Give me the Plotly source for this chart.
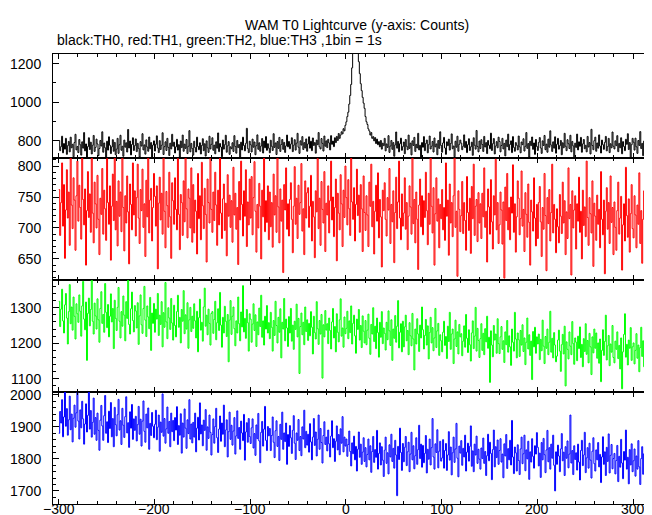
import plotly.graph_objects as go

T_START = -300  # first bin (s); 1 bin = 1 s

# TH0 (black)
th0 = [
801, 748, 769, 823, 737, 785, 756, 812, 729, 774, 796, 742, 818, 763, 781, 716, 790, 833, 752, 770,
738, 806, 779, 725, 794, 761, 842, 747, 783, 712, 769, 815, 754, 792, 731, 776, 827, 744, 765, 808,
783, 722, 759, 801, 772, 846, 740, 788, 763, 709, 797, 751, 820, 776, 733, 768, 805, 745, 791, 727,
756, 812, 734, 779, 828, 750, 771, 719, 803, 766, 789, 741, 858, 762, 798, 726, 780, 815, 749, 774,
809, 743, 786, 760, 715, 795, 772, 836, 752, 778, 730, 804, 767, 745, 819, 758, 790, 711, 777, 799,
746, 781, 825, 762, 738, 800, 754, 776, 841, 728, 769, 794, 749, 812, 765, 723, 787, 757, 833, 771,
792, 736, 768, 807, 751, 779, 713, 798, 764, 829, 745, 782, 760, 806, 733, 771, 852, 742, 786, 759,
725, 797, 764, 741, 818, 770, 753, 789, 731, 775, 810, 748, 784, 720, 799, 763, 739, 823, 757, 781,
815, 750, 777, 732, 794, 761, 840, 743, 785, 767, 716, 803, 756, 779, 828, 740, 773, 795, 729, 768,
758, 789, 744, 826, 770, 735, 801, 764, 780, 712, 792, 752, 818, 775, 747, 786, 864, 759, 738, 797,
779, 741, 808, 766, 793, 727, 774, 830, 755, 789, 745, 772, 811, 736, 798, 763, 821, 750, 784, 761,
737, 802, 771, 749, 836, 765, 788, 728, 795, 760, 817, 744, 780, 806, 755, 791, 739, 773, 829, 768,
796, 758, 782, 815, 743, 776, 805, 751, 787, 838, 766, 734, 799, 777, 821, 754, 790, 762, 809, 745,
783, 820, 761, 797, 748, 814, 775, 790, 735, 803, 779, 842, 768, 757, 811, 786, 746, 824, 771, 799,
764, 807, 788, 752, 826, 781, 798, 769, 815, 790, 822, 801, 837, 812, 829, 846, 835, 862, 851, 880,
898, 925, 948, 990, 1035, 1092, 1178, 1265, 1298, 1312, 1290, 1305, 1270, 1210, 1148, 1096, 1060, 1025, 995, 968,
925, 898, 884, 861, 850, 829, 842, 812, 821, 799, 816, 785, 808, 779, 795, 768, 801, 756, 787, 774,
812, 747, 783, 765, 826, 739, 772, 801, 755, 790, 719, 778, 845, 761, 796, 742, 784, 813, 750, 769,
793, 732, 806, 771, 753, 829, 760, 787, 726, 799, 775, 817, 744, 781, 762, 838, 752, 776, 708, 790,
766, 821, 748, 785, 803, 737, 779, 824, 757, 771, 796, 741, 814, 768, 783, 727, 801, 760, 846, 775,
740, 788, 817, 762, 729, 794, 774, 808, 751, 785, 835, 758, 772, 716, 797, 766, 823, 745, 781, 803,
787, 753, 771, 830, 764, 796, 738, 779, 810, 749, 768, 792, 724, 815, 776, 756, 853, 770, 742, 798,
759, 805, 780, 744, 822, 767, 790, 733, 801, 776, 758, 839, 749, 784, 811, 731, 772, 795, 763, 818,
796, 742, 775, 812, 757, 786, 721, 803, 769, 834, 751, 780, 799, 738, 821, 765, 745, 790, 776, 752,
824, 768, 737, 793, 779, 810, 746, 771, 842, 760, 785, 715, 797, 774, 819, 755, 788, 729, 806, 770,
749, 791, 816, 762, 734, 799, 775, 827, 753, 782, 740, 808, 766, 851, 777, 744, 794, 761, 820, 735,
781, 812, 756, 774, 801, 727, 789, 763, 838, 771, 748, 805, 784, 759, 828, 742, 796, 773, 710, 787,
765, 834, 752, 794, 771, 817, 740, 783, 806, 758, 776, 742, 822, 767, 790, 731, 859, 775, 753, 800,
818, 745, 788, 761, 830, 772, 736, 803, 779, 755, 791, 822, 747, 769, 812, 738, 784, 763, 845, 771,
757, 799, 774, 826, 743, 786, 763, 815, 732, 795, 770, 748, 807, 781, 836, 754, 790, 702, 779, 812,
792, 751, 813, 768, 734, 801, 775, 847, 759, 786, 722, 798, 770, 816, 745, 789, 765, 824, 753, 780,
768]

# TH1 (red)
th1 = [
762, 688, 741, 805, 703, 770, 651, 729, 794, 716, 758, 672, 823, 737, 699, 781, 745, 664, 752, 808,
711, 769, 733, 682, 817, 746, 705, 763, 640, 728, 791, 717, 755, 693, 838, 724, 676, 774, 739, 700,
785, 714, 657, 748, 722, 796, 690, 761, 731, 680, 812, 741, 706, 768, 648, 735, 787, 712, 826, 697,
743, 671, 776, 719, 758, 694, 829, 733, 663, 752, 708, 784, 726, 642, 771, 738, 697, 805, 721, 760,
687, 749, 803, 716, 675, 762, 728, 795, 701, 739, 654, 777, 718, 816, 692, 745, 764, 679, 733, 788,
751, 703, 768, 634, 740, 782, 713, 756, 690, 821, 727, 668, 759, 736, 701, 790, 718, 651, 773, 744,
706, 781, 730, 697, 812, 722, 665, 754, 741, 688, 776, 710, 839, 731, 684, 763, 748, 700, 797, 677,
770, 692, 745, 727, 658, 788, 715, 752, 681, 806, 736, 699, 764, 722, 645, 779, 741, 708, 820, 730,
693, 758, 712, 790, 737, 672, 761, 705, 830, 724, 683, 747, 771, 696, 740, 655, 786, 719, 753, 701,
744, 677, 798, 721, 756, 698, 733, 641, 775, 713, 808, 738, 687, 760, 719, 794, 670, 742, 705, 779,
716, 783, 689, 749, 807, 727, 661, 738, 700, 772, 735, 650, 761, 718, 825, 694, 744, 709, 768, 681,
758, 702, 741, 669, 787, 721, 752, 693, 816, 734, 676, 763, 711, 745, 628, 770, 729, 797, 698, 739,
687, 746, 773, 714, 660, 735, 799, 706, 748, 683, 769, 722, 741, 804, 695, 731, 657, 776, 716, 757,
765, 701, 735, 785, 679, 743, 718, 652, 760, 726, 812, 699, 748, 672, 775, 730, 708, 791, 662, 740,
721, 768, 692, 744, 808, 713, 750, 686, 733, 779, 647, 756, 724, 697, 786, 739, 670, 761, 717, 800,
749, 705, 778, 731, 688, 817, 742, 714, 765, 679, 738, 795, 720, 753, 693, 770, 731, 662, 784, 725,
696, 752, 721, 670, 774, 735, 803, 702, 743, 658, 727, 769, 711, 789, 684, 746, 718, 637, 761, 728,
773, 714, 687, 749, 729, 796, 675, 738, 710, 760, 644, 725, 782, 699, 742, 808, 716, 681, 755, 703,
724, 781, 698, 741, 665, 719, 768, 734, 690, 822, 707, 746, 676, 758, 714, 633, 737, 779, 702, 752,
689, 744, 717, 790, 728, 673, 756, 706, 831, 735, 692, 765, 640, 723, 781, 711, 747, 668, 738, 715,
762, 697, 733, 680, 805, 719, 745, 656, 771, 708, 741, 686, 752, 815, 701, 727, 622, 760, 730, 694,
720, 775, 691, 741, 712, 664, 783, 725, 696, 748, 659, 767, 715, 803, 688, 735, 746, 678, 757, 708,
739, 683, 756, 718, 797, 701, 727, 645, 763, 734, 690, 778, 710, 666, 752, 721, 811, 697, 741, 675,
705, 758, 729, 674, 742, 619, 766, 712, 788, 697, 733, 681, 750, 724, 802, 693, 739, 661, 718, 776,
748, 689, 715, 792, 703, 730, 662, 757, 722, 685, 771, 709, 640, 745, 726, 695, 781, 716, 671, 738,
683, 741, 767, 710, 654, 733, 698, 788, 720, 631, 749, 707, 762, 679, 725, 803, 692, 738, 714, 660,
731, 702, 676, 754, 719, 691, 774, 708, 744, 657, 726, 683, 797, 715, 738, 624, 760, 700, 729, 752,
666, 739, 711, 782, 693, 727, 650, 761, 704, 734, 686, 808, 717, 672, 749, 723, 692, 776, 638, 740,
719, 680, 753, 706, 730, 668, 791, 714, 689, 745, 626, 727, 765, 698, 741, 675, 784, 709, 733, 657,
742, 701, 664, 728, 774, 690, 716, 751, 632, 705, 739, 679, 798, 720, 685, 747, 661, 723, 770, 699,
684, 752, 721, 668, 737, 706, 789, 675, 728, 643, 714, 760, 698, 731, 654, 743, 710, 683, 766, 702,
715]

# TH2 (green)
th2 = [
1318, 1247, 1296, 1352, 1263, 1229, 1308, 1340, 1271, 1198, 1289, 1365, 1255, 1302, 1237, 1330, 1276, 1212, 1311, 1283,
1259, 1336, 1290, 1220, 1305, 1374, 1268, 1238, 1316, 1152, 1284, 1327, 1249, 1295, 1382, 1262, 1226, 1313, 1277, 1240,
1325, 1266, 1203, 1298, 1345, 1256, 1281, 1231, 1368, 1287, 1244, 1309, 1218, 1276, 1339, 1260, 1298, 1185, 1321, 1270,
1236, 1301, 1357, 1262, 1215, 1289, 1248, 1333, 1279, 1207, 1317, 1270, 1392, 1253, 1226, 1297, 1344, 1264, 1232, 1306,
1291, 1243, 1314, 1197, 1277, 1336, 1252, 1228, 1298, 1360, 1265, 1219, 1305, 1274, 1241, 1329, 1180, 1285, 1256, 1312,
1231, 1296, 1268, 1340, 1222, 1279, 1253, 1317, 1190, 1286, 1245, 1371, 1260, 1213, 1300, 1271, 1239, 1326, 1257, 1209,
1307, 1250, 1218, 1289, 1335, 1245, 1273, 1201, 1295, 1262, 1348, 1227, 1280, 1240, 1314, 1186, 1266, 1301, 1233, 1276,
1242, 1311, 1263, 1215, 1290, 1176, 1272, 1324, 1237, 1259, 1206, 1302, 1355, 1248, 1279, 1224, 1296, 1256, 1195, 1284,
1289, 1228, 1267, 1318, 1210, 1258, 1297, 1236, 1343, 1251, 1189, 1273, 1229, 1304, 1262, 1219, 1281, 1148, 1265, 1320,
1225, 1276, 1302, 1241, 1193, 1263, 1229, 1330, 1255, 1207, 1288, 1246, 1362, 1232, 1270, 1214, 1295, 1258, 1178, 1283,
1268, 1203, 1254, 1311, 1236, 1280, 1191, 1260, 1224, 1299, 1247, 1335, 1217, 1263, 1195, 1276, 1240, 1306, 1229, 1258,
1213, 1287, 1245, 1178, 1264, 1222, 1318, 1250, 1201, 1273, 1231, 1297, 1159, 1259, 1240, 1326, 1207, 1268, 1243, 1191,
1275, 1229, 1298, 1206, 1251, 1183, 1262, 1239, 1310, 1218, 1270, 1115, 1247, 1285, 1224, 1259, 1196, 1302, 1233, 1266,
1208, 1256, 1221, 1289, 1245, 1170, 1276, 1230, 1212, 1317, 1241, 1197, 1264, 1226, 1281, 1102, 1252, 1218, 1292, 1237,
1255, 1199, 1271, 1236, 1184, 1260, 1298, 1215, 1247, 1176, 1283, 1231, 1204, 1266, 1325, 1220, 1243, 1189, 1274, 1227,
1242, 1290, 1213, 1263, 1230, 1305, 1198, 1256, 1279, 1221, 1172, 1268, 1239, 1295, 1209, 1250, 1188, 1277, 1234, 1201,
1264, 1196, 1237, 1282, 1214, 1169, 1253, 1226, 1300, 1205, 1248, 1185, 1271, 1230, 1161, 1259, 1217, 1289, 1199, 1243,
1228, 1181, 1259, 1210, 1291, 1235, 1194, 1266, 1152, 1240, 1214, 1278, 1203, 1248, 1320, 1187, 1231, 1255, 1176, 1262,
1190, 1246, 1279, 1207, 1236, 1168, 1258, 1221, 1193, 1284, 1212, 1125, 1240, 1198, 1269, 1226, 1177, 1251, 1215, 1302,
1238, 1184, 1222, 1267, 1195, 1249, 1156, 1230, 1273, 1201, 1244, 1179, 1215, 1298, 1188, 1235, 1256, 1166, 1224, 1207,
1176, 1231, 1262, 1194, 1219, 1157, 1248, 1205, 1287, 1183, 1226, 1240, 1143, 1212, 1265, 1191, 1232, 1170, 1253, 1218,
1227, 1165, 1206, 1249, 1189, 1281, 1214, 1174, 1238, 1196, 1150, 1229, 1263, 1185, 1220, 1301, 1178, 1242, 1208, 1160,
1213, 1255, 1180, 1228, 1168, 1241, 1204, 1276, 1186, 1217, 1090, 1235, 1195, 1162, 1250, 1209, 1226, 1172, 1269, 1199,
1171, 1218, 1247, 1183, 1207, 1146, 1232, 1196, 1264, 1175, 1221, 1190, 1138, 1240, 1203, 1178, 1287, 1212, 1159, 1229,
1210, 1163, 1236, 1195, 1252, 1177, 1215, 1140, 1203, 1271, 1184, 1224, 1166, 1206, 1098, 1233, 1190, 1245, 1172, 1218,
1198, 1226, 1154, 1211, 1179, 1265, 1192, 1143, 1219, 1186, 1240, 1168, 1203, 1290, 1175, 1214, 1159, 1230, 1195, 1148,
1164, 1209, 1237, 1178, 1121, 1196, 1225, 1170, 1248, 1080, 1204, 1183, 1156, 1232, 1192, 1168, 1261, 1199, 1141, 1215,
1203, 1151, 1220, 1185, 1246, 1160, 1197, 1134, 1213, 1177, 1255, 1169, 1208, 1145, 1228, 1190, 1112, 1218, 1173, 1240,
1186, 1229, 1158, 1201, 1144, 1212, 1092, 1180, 1238, 1166, 1205, 1279, 1153, 1193, 1222, 1137, 1198, 1175, 1250, 1160,
1145, 1206, 1183, 1232, 1157, 1194, 1128, 1215, 1072, 1176, 1225, 1283, 1161, 1197, 1139, 1209, 1186, 1244, 1152, 1190,
1201, 1142, 1180, 1227, 1158, 1195, 1120, 1188, 1245, 1163, 1207, 1134, 1176, 1218, 1068, 1192, 1153, 1233, 1168, 1140,
1182]

# TH3 (blue)
th3 = [
1880, 1948, 1912, 1985, 1869, 1931, 2015, 1902, 1957, 1874, 1922, 1996, 1891, 1940, 1853, 1927, 1968, 1899, 1944, 2008,
1918, 1862, 1953, 1897, 1980, 1925, 1846, 1909, 1972, 1884, 1936, 2020, 1893, 1951, 1868, 1914, 1990, 1877, 1929, 1858,
1943, 1889, 1827, 1921, 1967, 1903, 1858, 1935, 1998, 1880, 1916, 1851, 1949, 1895, 1976, 1869, 1926, 1838, 1961, 1907,
1872, 1938, 1986, 1890, 1919, 1845, 1958, 1905, 1867, 1932, 1994, 1881, 1913, 1836, 1947, 1896, 1970, 1861, 1925, 1889,
1933, 1856, 1907, 1964, 1877, 1924, 1840, 1918, 1981, 1886, 1852, 1940, 1897, 1959, 1830, 1911, 1873, 1945, 1902, 1866,
1908, 1952, 1860, 1899, 1937, 1824, 1915, 1883, 2003, 1871, 1926, 1849, 1894, 1962, 1880, 1917, 1838, 1943, 1885, 1920,
1857, 1929, 1890, 1963, 1845, 1904, 1874, 1941, 1818, 1912, 1868, 1956, 1896, 1833, 1922, 1879, 1985, 1862, 1909, 1850,
1914, 1868, 1943, 1822, 1896, 1930, 1859, 1975, 1878, 1906, 1841, 1921, 1889, 1954, 1827, 1900, 1864, 1937, 1883, 1812,
1876, 1925, 1849, 1901, 1958, 1866, 1820, 1893, 1934, 1855, 1912, 1877, 1968, 1838, 1890, 1922, 1806, 1885, 1946, 1861,
1905, 1843, 1887, 1929, 1815, 1872, 1950, 1864, 1898, 1830, 1918, 1881, 1857, 1939, 1796, 1884, 1913, 1852, 1926, 1870,
1848, 1897, 1925, 1834, 1879, 1811, 1906, 1863, 1942, 1856, 1788, 1883, 1917, 1840, 1893, 1964, 1858, 1826, 1901, 1872,
1895, 1826, 1873, 1931, 1852, 1804, 1888, 1919, 1839, 1870, 1795, 1908, 1861, 1946, 1830, 1881, 1854, 1912, 1783, 1876,
1839, 1904, 1866, 1817, 1889, 1935, 1849, 1798, 1881, 1858, 1923, 1826, 1870, 1810, 1900, 1862, 1952, 1835, 1886, 1843,
1877, 1821, 1910, 1853, 1797, 1868, 1926, 1842, 1884, 1809, 1861, 1937, 1830, 1895, 1851, 1787, 1873, 1916, 1845, 1868,
1825, 1890, 1847, 1806, 1871, 1919, 1835, 1863, 1792, 1855, 1903, 1828, 1876, 1813, 1894, 1849, 1932, 1822, 1868, 1840,
1862, 1808, 1845, 1887, 1823, 1778, 1850, 1816, 1871, 1797, 1839, 1762, 1830, 1884, 1805, 1846, 1783, 1821, 1866, 1792,
1835, 1775, 1814, 1862, 1797, 1841, 1758, 1823, 1870, 1789, 1829, 1805, 1889, 1768, 1817, 1850, 1781, 1838, 1796, 1745,
1827, 1868, 1786, 1819, 1753, 1844, 1806, 1877, 1792, 1833, 1771, 1858, 1812, 1685, 1839, 1798, 1896, 1820, 1764, 1848,
1791, 1836, 1870, 1779, 1822, 1852, 1760, 1815, 1883, 1797, 1841, 1769, 1810, 1866, 1783, 1829, 1905, 1801, 1846, 1774,
1842, 1788, 1817, 1873, 1756, 1830, 1799, 1862, 1781, 1835, 1926, 1806, 1768, 1847, 1820, 1891, 1772, 1824, 1855, 1793,
1803, 1860, 1771, 1826, 1848, 1764, 1812, 1885, 1796, 1837, 1750, 1819, 1868, 1789, 1831, 1911, 1802, 1744, 1840, 1818,
1857, 1780, 1833, 1806, 1874, 1762, 1821, 1849, 1793, 1839, 1903, 1777, 1825, 1760, 1846, 1812, 1871, 1786, 1830, 1799,
1768, 1834, 1801, 1865, 1786, 1823, 1748, 1810, 1877, 1794, 1852, 1817, 1735, 1829, 1890, 1775, 1838, 1804, 1859, 1783,
1826, 1863, 1790, 1815, 1741, 1847, 1809, 1876, 1770, 1832, 1797, 1858, 1781, 1920, 1806, 1754, 1837, 1819, 1762, 1844,
1795, 1751, 1831, 1868, 1785, 1816, 1874, 1763, 1828, 1800, 1855, 1736, 1822, 1790, 1863, 1808, 1771, 1841, 1815, 1882,
1836, 1778, 1818, 1742, 1851, 1797, 1864, 1813, 1757, 1828, 1889, 1791, 1835, 1768, 1846, 1802, 1874, 1780, 1700, 1822,
1783, 1843, 1809, 1760, 1831, 1879, 1794, 1821, 1748, 1838, 1802, 1856, 1772, 1815, 1937, 1787, 1826, 1751, 1841, 1798,
1819, 1765, 1846, 1790, 1734, 1826, 1858, 1779, 1812, 1883, 1757, 1803, 1835, 1771, 1849, 1796, 1740, 1824, 1866, 1785,
1762, 1828, 1797, 1851, 1775, 1814, 1726, 1806, 1869, 1783, 1822, 1748, 1836, 1792, 1878, 1756, 1811, 1845, 1769, 1801,
1817, 1753, 1795, 1842, 1729, 1808, 1774, 1861, 1787, 1738, 1823, 1796, 1890, 1768, 1805, 1722, 1829, 1781, 1847, 1760,
1794, 1831, 1746, 1809, 1768, 1857, 1775, 1720, 1801, 1838, 1752, 1816, 1783, 1878, 1737, 1796, 1762, 1705, 1813, 1771,
1784]

# bottom time-axis tick labels
x_tick_vals = [-300, -200, -100, 0, 100, 200, 300]
x_tick_text = ["\u2212300", "\u2212200", "\u2212100", "0", "100", "200", "300"]

series = [th0, th1, th2, th3]
colors = ["#000000", "#ff0000", "#00ff00", "#0000ff"]
y_ranges = [[710, 1250], [616, 813], [1063, 1378], [1659, 2009]]
y_major = [200, 50, 100, 100]
y_minor = [100, 10, 20, 20]
domains = [[0.7689, 1.0], [0.4978, 0.7689], [0.2489, 0.4978], [0.0, 0.2489]]

FONT = "Liberation Sans, Arial, Helvetica, sans-serif"

fig = go.Figure()
for k, (vals, col) in enumerate(zip(series, colors)):
    sfx = "" if k == 0 else str(k + 1)
    fig.add_trace(go.Scatter(
        x=list(range(T_START, T_START + len(vals))), y=vals,
        mode="lines", line=dict(color=col, width=1, shape="hv"),
        xaxis="x" + sfx, yaxis="y" + sfx, hoverinfo="skip"))

layout = dict(
    width=652, height=515,
    margin=dict(l=45, r=2, t=46, b=19, autoexpand=False),
    paper_bgcolor="white", plot_bgcolor="white",
    showlegend=False,
    font=dict(family=FONT, size=14, color="black"),
)
for k in range(4):
    sfx = "" if k == 0 else str(k + 1)
    layout["xaxis" + sfx] = dict(
        range=[-306, 326], domain=[0, 1], anchor="y" + sfx,
        matches=None if k == 0 else "x", automargin=False,
        showgrid=False, zeroline=False, showline=True, linecolor="black", linewidth=1,
        mirror="allticks", ticks="inside", ticklen=5, tickwidth=1, tickcolor="black",
        tick0=0, dtick=100, showticklabels=False,
        minor=dict(ticks="inside", ticklen=3, tickwidth=1, tickcolor="black", dtick=20, tick0=0, showgrid=False),
    )
    layout["yaxis" + sfx] = dict(
        range=y_ranges[k], domain=domains[k], anchor="x" + sfx, automargin=False,
        showgrid=False, zeroline=False, showline=True, linecolor="black", linewidth=1,
        mirror="allticks", ticks="inside", ticklen=6, tickwidth=1, tickcolor="black",
        tick0=0, dtick=y_major[k], ticklabelstandoff=8,
        tickfont=dict(family=FONT, size=14, color="black"),
        minor=dict(ticks="inside", ticklen=3, tickwidth=1, tickcolor="black", dtick=y_minor[k], tick0=0, showgrid=False),
    )
fig.update_layout(**layout)

annotations = [
    dict(text="WAM T0 Lightcurve (y-axis: Counts)", xref="paper", yref="paper",
         x=0.5025, y=1.0644, xanchor="center", yanchor="middle", showarrow=False,
         font=dict(family=FONT, size=14, color="black")),
    dict(text="black:TH0, red:TH1, green:TH2, blue:TH3 ,1bin = 1s", xref="paper", yref="paper",
         x=0.0033, y=1.0300, xanchor="left", yanchor="middle", showarrow=False,
         font=dict(family=FONT, size=14, color="black")),
]
for v, s in zip(x_tick_vals, x_tick_text):
    annotations.append(dict(text=s, xref="x4", yref="paper", x=v, y=-0.0340,
                            xanchor="center", yanchor="bottom", showarrow=False,
                            font=dict(family=FONT, size=14, color="black")))
fig.update_layout(annotations=annotations)
fig.write_html("out.html")
